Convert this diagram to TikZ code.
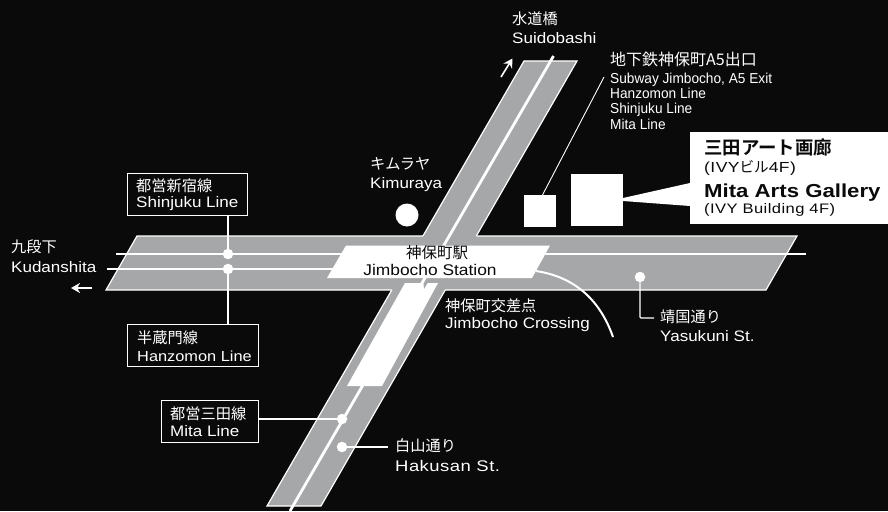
\documentclass[tikz,border=0pt]{standalone}
\usepackage{fontspec}
\setmainfont[FakeStretch=1.08]{Liberation Sans}
\newfontfamily\jp{Noto Sans CJK JP}
\newfontfamily\jpb{Noto Sans CJK JP Bold}
\newfontfamily\lat[FakeStretch=1.12]{Liberation Sans}
\newfontfamily\latw[FakeStretch=1.2,LetterSpace=3]{Liberation Sans}
\newfontfamily\narrow[FakeStretch=0.95]{Liberation Sans}
\newfontfamily\wideb[FakeStretch=1.18]{Liberation Sans Bold}
\definecolor{bgk}{HTML}{0A0A0B}
\definecolor{road}{HTML}{A6A7A9}
\usetikzlibrary{arrows.meta}
\tikzset{
  x=1pt,y=-1pt,
  roadshape/.style={fill=road,draw=white,line width=1.2pt,line join=miter},
  solid fillw/.style={fill=white,draw=none},
  rail/.style={draw=white,line width=2.8pt},
  leader/.style={draw=white,line width=1.2pt},
  dot/.style={circle,fill=white,draw=none,minimum size=10.5pt,inner sep=0pt},
  linebox/.style={draw=white,line width=1.2pt,fill=bgk,inner sep=0pt,anchor=north west,text=white},
  lab/.style={text=white,inner sep=0pt,anchor=west,font=\lat\fontsize{15.2}{17}\selectfont},
  jlab/.style={text=white,inner sep=0pt,anchor=west,font=\jp\fontsize{15.2}{17}\selectfont},
  arrowl/.style={draw=white,line width=1.6pt,-{Stealth[length=9pt,width=10pt]}},
}
\begin{document}
\begin{tikzpicture}
\useasboundingbox (0,0) rectangle (888,511);
\fill[bgk] (0,0) rectangle (888,511);
% diagonal road
\draw[roadshape] (524,61) -- (577,61) -- (321,506) -- (267,506) -- cycle;
% horizontal road
\path[fill=road] (137,236) -- (797,236) -- (766,290) -- (106,290) -- cycle;
\draw[white,line width=1.2pt] (423,236) -- (137,236) -- (106,290) -- (392,290);
\draw[white,line width=1.2pt] (476.5,236) -- (797,236) -- (766,290) -- (445,290);
% centre rail
\coordinate (dt) at (553.5,56);
\coordinate (db) at (290,511);
\draw[rail] (dt) -- (db);
% white block
\fill[white] (405,283) -- (438,283) -- (382,386) -- (347,386) -- cycle;
\fill[road] (423.5,283) -- (427.5,283) -- (424,289) -- cycle;
% rails
\coordinate (hl1a) at (116,254); \coordinate (hl1b) at (806,254);
\coordinate (hl2a) at (107,269); \coordinate (hl2b) at (400,269);
\draw[rail] (hl1a) -- (hl1b);
\draw[rail] (hl2a) -- (hl2b);
% station
\fill[white] (346,245.5) -- (550,245.5) -- (532,278) -- (327,278) -- cycle;
% curve
\coordinate (ca) at (536,271); \coordinate (cb) at (613,337);
\draw[white,line width=2pt] (ca) .. controls (575,277) and (600,300) .. (cb);
% squares
\fill[white] (524,195) rectangle (556,227);
\node[solid fillw,minimum width=52pt,minimum height=52pt,inner sep=0pt] (gal) at (597,200) {};
\node[solid fillw,anchor=north west,minimum width=198pt,minimum height=92pt,inner sep=0pt] (card) at (690,132) {};
\fill[white] (623,198) -- (690,183) -- (690,206) -- (623,201) -- cycle;
\coordinate (a5t) at (604,77); \coordinate (a5b) at (542.5,195);
\draw[white,line width=0.9pt] (a5t) -- (a5b);
% card text
\node[anchor=west,inner sep=0pt,text=bgk,font=\jpb\fontsize{18.4}{20}\selectfont] at (704,148) {三田アート画廊};
\node[anchor=west,inner sep=0pt,text=bgk,font=\latw\fontsize{14.6}{14}\selectfont] at (704,168) {(IVY{\jp ビル}4F)};
\node[anchor=west,inner sep=0pt,text=bgk,font=\wideb\fontsize{18.8}{20}\selectfont] at (704,192.5) {Mita Arts Gallery};
\node[anchor=west,inner sep=0pt,text=bgk,font=\latw\fontsize{13.8}{14}\selectfont] at (704,210) {(IVY Building 4F)};
% kimuraya
\node[circle,fill=white,minimum size=23pt,inner sep=0pt] (kim) at (407,215) {};
\node[jlab] at (370,164) {キムラヤ};
\node[lab] at (370,185) {Kimuraya};
% suidobashi
\node[jlab] at (512,19) {水道橋};
\node[lab] at (512,38) {Suidobashi};
\coordinate (su1) at (501,77); \coordinate (su2) at (512.5,58.5);
\draw[arrowl] (su1) -- (su2);
% A5
\node[jlab,font=\jp\fontsize{16}{17}\selectfont] at (610,59) {地下鉄神保町A5出口};
\node[anchor=north west,inner sep=0pt,text=white,align=left,font=\narrow\fontsize{14.4}{15.4}\selectfont] at (610,72.5) {Subway Jimbocho, A5 Exit\\Hanzomon Line\\Shinjuku Line\\Mita Line};
% kudanshita
\node[jlab] at (11,247) {九段下};
\node[lab] at (11,267) {Kudanshita};
\coordinate (ku1) at (92,288); \coordinate (ku2) at (71,288);
\draw[arrowl] (ku1) -- (ku2);
% line boxes
\node[linebox,minimum width=120pt,minimum height=42pt] (shin) at (127,173) {};
\node[linebox,minimum width=131pt,minimum height=42pt] (hanz) at (127,324) {};
\node[linebox,minimum width=97pt,minimum height=42pt] (mita) at (161,400) {};
\node[jlab] at (136,186) {都営新宿線};
\node[lab] at (136,204) {Shinjuku Line};
\node[jlab] at (137,338) {半蔵門線};
\node[lab,font=\lat\fontsize{14.6}{17}\selectfont] at (137,356) {Hanzomon Line};
\node[jlab] at (170,414) {都営三田線};
\node[lab] at (170,431) {Mita Line};
% dots and leaders
\node[dot] (d1) at (228,254) {};
\node[dot] (d2) at (228,269) {};
\node[dot] (d3) at (342,419) {};
\node[dot] (d4) at (342,447) {};
\node[dot] (d5) at (640,277) {};
\coordinate (h4) at (388,447);
\coordinate (y5) at (654,318);
\draw[leader] (shin.south -| d1) -- (d1);
\draw[leader] (d2) -- (hanz.north -| d2);
\draw[leader] (mita.east |- d3) -- (d3);
\draw[leader] (d4) -- (h4);
\draw[leader,rounded corners=1pt] (d5) |- (y5);
% labels
\node[text=bgk,anchor=center,inner sep=0pt,font=\jp\fontsize{15.5}{17}\selectfont] at (437,253) {神保町駅};
\node[text=bgk,anchor=center,inner sep=0pt,font=\lat\fontsize{15.5}{17}\selectfont] at (430,270) {Jimbocho Station};
\node[jlab] at (445,306) {神保町交差点};
\node[lab] at (445,325) {Jimbocho Crossing};
\node[jlab] at (660,317) {靖国通り};
\node[lab] at (660,336) {Yasukuni St.};
\node[jlab] at (395,446) {白山通り};
\node[lab,font=\latw\fontsize{15.4}{17}\selectfont] at (395,466) {Hakusan St.};
\end{tikzpicture}
\end{document}
